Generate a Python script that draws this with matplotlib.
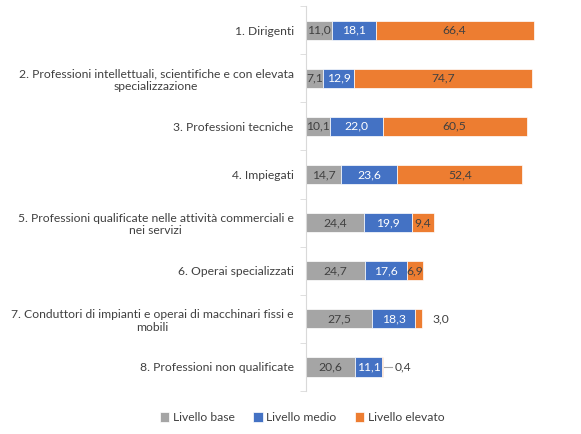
import matplotlib
matplotlib.use("Agg")
import matplotlib.pyplot as plt
import numpy as np

categories = [
    "1. Dirigenti",
    "2. Professioni intellettuali, scientifiche e con elevata\nspecializzazione",
    "3. Professioni tecniche",
    "4. Impiegati",
    "5. Professioni qualificate nelle attività commerciali e\nnei servizi",
    "6. Operai specializzati",
    "7. Conduttori di impianti e operai di macchinari fissi e\nmobili",
    "8. Professioni non qualificate",
]
base = [11.0, 7.1, 10.1, 14.7, 24.4, 24.7, 27.5, 20.6]
medio = [18.1, 12.9, 22.0, 23.6, 19.9, 17.6, 18.3, 11.1]
elevato = [66.4, 74.7, 60.5, 52.4, 9.4, 6.9, 3.0, 0.4]
series_names = ["Livello base", "Livello medio", "Livello elevato"]
colors = ["#A5A5A5", "#4472C4", "#ED7D31"]

plt.rcParams["font.family"] = ["Lato", "DejaVu Sans"]
fs = 8.7

fig = plt.figure(figsize=(5.81, 4.34), dpi=100)
ax = fig.add_axes([0.527, 0.099, 0.41, 0.887])

y = np.arange(len(categories))
left = np.zeros(len(categories))
for vals, name, col in zip([base, medio, elevato], series_names, colors):
    ax.barh(y, vals, left=left, height=0.4, color=col, label=name,
            edgecolor="white", linewidth=0.5)
    for i, v in enumerate(vals):
        lab = f"{v:.1f}".replace(".", ",")
        if name == "Livello elevato" and v < 5:
            end = left[i] + v
            if v < 1:
                ax.plot([end + 0.5, end + 4], [y[i], y[i]], color="#A5A5A5", lw=0.8)
                ax.text(end + 5, y[i], lab, va="center", ha="left", fontsize=fs, color="#404040")
            else:
                ax.text(end + 4, y[i], lab, va="center", ha="left", fontsize=fs, color="#404040")
            continue
        tc = "white" if name == "Livello medio" else "#404040"
        ax.text(left[i] + v / 2, y[i], lab, va="center", ha="center", fontsize=fs, color=tc)
    left += np.array(vals)

ax.set_xlim(0, 100)
ax.set_ylim(len(categories) - 0.5, -0.5)
ax.set_yticks(y)
ax.set_yticklabels(categories, fontsize=fs, color="#404040", multialignment="center")
ax.set_yticks(np.arange(-0.5, len(categories)), minor=True)
ax.tick_params(axis="y", which="major", length=0, pad=9)
ax.tick_params(axis="y", which="minor", length=4, color="#D9D9D9")
ax.set_xticks([])
for s in ["top", "right", "bottom"]:
    ax.spines[s].set_visible(False)
ax.spines["left"].set_color("#D9D9D9")

fig.legend(loc="lower center", bbox_to_anchor=(0.52, 0.0), ncol=3, frameon=False,
           fontsize=fs, handlelength=0.8, handleheight=0.8, handletextpad=0.3,
           columnspacing=1.5, labelcolor="#404040")

fig.savefig("out.png", dpi=100)
